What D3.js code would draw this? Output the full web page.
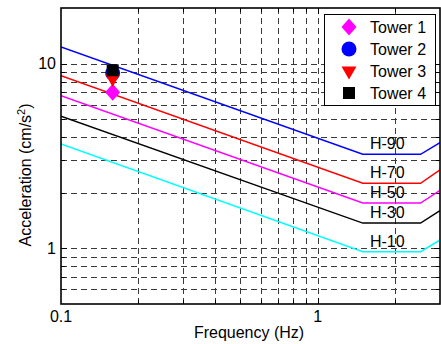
<!DOCTYPE html>
<html><head><meta charset="utf-8">
<script src="https://cdn.jsdelivr.net/npm/d3@7"></script>
<style>body{margin:0;background:#fff}svg{display:block;font-family:"Liberation Sans",Arial,sans-serif}</style>
</head><body><svg id="c" width="441" height="344"></svg>
<script>
// Data
const freqPoints = [0.1, 1.5, 2.52, 3.0];
const curveNames = ["H-90", "H-70", "H-50", "H-30", "H-10"];
const curveColors = ["#0000ff", "#ff0000", "#ff00ff", "#000000", "#00ffff"];
const h90 = [12.3, 3.23, 3.23, 3.73];
const h70 = [8.6, 2.25, 2.25, 2.66];
const h50 = [6.7, 1.76, 1.76, 2.06];
const h30 = [5.2, 1.37, 1.37, 1.60];
const h10 = [3.67, 0.96, 0.96, 1.11];
const curveValues = [h90, h70, h50, h30, h10];
const towerNames = ["Tower 1", "Tower 2", "Tower 3", "Tower 4"];
const towerFreq = [0.159, 0.159, 0.159, 0.159];
const towerAcc = [7.0, 8.9, 8.3, 9.2];
const towerColors = ["#ff00ff", "#0000ff", "#ff0000", "#000000"];
const towerShapes = ["diamond", "circle", "triangle", "square"];
const xTickLabels = [0.1, 1];
const yTickLabels = [1, 10];
const xGrid = [0.2,0.3,0.4,0.5,0.6,0.7,0.8,0.9,1,2];
const yGrid = [0.6,0.7,0.8,0.9,1,2,3,4,5,6,7,8,9,10];

const L = 61, R = 440, T = 8, B = 304;
const svg = d3.select("#c");
const x = d3.scaleLog().domain([0.1, 3]).range([L, R]);
const y = d3.scaleLog().domain([0.5, 20]).range([B, T]);

svg.append("defs").append("clipPath").attr("id","clip")
  .append("rect").attr("x",L).attr("y",T).attr("width",R-L).attr("height",B-T);

// grid
const g = svg.append("g").attr("stroke","#3a3a3a").attr("stroke-width",1).attr("stroke-dasharray","6,4");
g.selectAll(".vx").data(xGrid).join("line")
  .attr("x1",d=>Math.round(x(d))+0.5).attr("x2",d=>Math.round(x(d))+0.5).attr("y1",T).attr("y2",B);
g.selectAll(".hy").data(yGrid).join("line")
  .attr("y1",d=>Math.round(y(d))+0.5).attr("y2",d=>Math.round(y(d))+0.5).attr("x1",L).attr("x2",R);

// inward ticks
const tk = svg.append("g").attr("stroke","#000").attr("stroke-width",1);
tk.selectAll(".bt").data(xGrid).join("line")
  .attr("x1",d=>Math.round(x(d))+0.5).attr("x2",d=>Math.round(x(d))+0.5).attr("y1",B).attr("y2",d=>B-(d===1?6:4));
tk.selectAll(".tt").data(xGrid).join("line")
  .attr("x1",d=>Math.round(x(d))+0.5).attr("x2",d=>Math.round(x(d))+0.5).attr("y1",T).attr("y2",d=>T+(d===1?6:4));
tk.selectAll(".lt").data(yGrid).join("line")
  .attr("y1",d=>Math.round(y(d))+0.5).attr("y2",d=>Math.round(y(d))+0.5).attr("x1",L).attr("x2",d=>L+((d===1||d===10)?6:4));
tk.selectAll(".rt").data(yGrid).join("line")
  .attr("y1",d=>Math.round(y(d))+0.5).attr("y2",d=>Math.round(y(d))+0.5).attr("x1",R).attr("x2",d=>R-((d===1||d===10)?6:4));

// curves
const line = d3.line().x(d=>x(d[0])).y(d=>y(d[1]));
const cg = svg.append("g").attr("clip-path","url(#clip)");
curveValues.forEach((vals,i)=>{
  cg.append("path").datum(freqPoints.map((f,j)=>[f,vals[j]]))
    .attr("d",line).attr("fill","none").attr("stroke",curveColors[i]).attr("stroke-width",1.5);
});
// curve labels
svg.append("g").selectAll("text").data(curveValues).join("text")
  .attr("x",x(1.6)).attr("y",d=>y(d[1])-5)
  .attr("font-size",16).attr("fill","#000").text((d,i)=>curveNames[i]);

// markers
function sym(shape){
  const p = d3.path();
  if (shape==="diamond"){ p.moveTo(0,-8.5); p.lineTo(7.5,0); p.lineTo(0,8.5); p.lineTo(-7.5,0); p.closePath(); }
  else if (shape==="circle"){ p.arc(0,0,7.5,0,2*Math.PI); }
  else if (shape==="triangle"){ p.moveTo(-7.5,-4.5); p.lineTo(7.5,-4.5); p.lineTo(0,8.5); p.closePath(); }
  else { p.rect(-6,-6,12,12); }
  return p.toString();
}
const mg = svg.append("g");
towerNames.forEach((n,i)=>{
  mg.append("path").attr("d",sym(towerShapes[i]))
    .attr("transform",`translate(${x(towerFreq[i])},${y(towerAcc[i])})`)
    .attr("fill",towerColors[i]);
});

// frame
svg.append("rect").attr("x",L).attr("y",T).attr("width",R-L).attr("height",B-T)
  .attr("fill","none").attr("stroke","#000").attr("stroke-width",1.6);

// legend
const lg = svg.append("g");
lg.append("rect").attr("x",324.5).attr("y",14.5).attr("width",111).attr("height",91)
  .attr("fill","#fff").attr("stroke","#000").attr("stroke-width",1);
const rowY = [27, 49, 71, 93];
towerNames.forEach((n,i)=>{
  lg.append("path").attr("d",sym(towerShapes[i]))
    .attr("transform",`translate(349,${rowY[i]})`)
    .attr("fill",towerColors[i]);
  lg.append("text").attr("x",370).attr("y",rowY[i]+5.5).attr("font-size",16).text(n);
});

// tick labels
svg.append("g").selectAll("text").data(xTickLabels).join("text")
  .attr("x",d=>x(d)).attr("y",322).attr("text-anchor","middle").attr("font-size",16)
  .text(d=>d3.format("")(d));
svg.append("g").selectAll("text").data(yTickLabels).join("text")
  .attr("x",56).attr("y",d=>y(d)+5.5).attr("text-anchor","end").attr("font-size",16)
  .text(d=>d);

// axis titles
svg.append("text").attr("x",249).attr("y",338).attr("text-anchor","middle").attr("font-size",16)
  .text("Frequency (Hz)");
const yt = svg.append("text").attr("transform","translate(31,175) rotate(-90)").attr("text-anchor","middle").attr("font-size",16);
yt.append("tspan").text("Acceleration (cm/s");
yt.append("tspan").attr("dy",-6).attr("font-size",11).text("2");
yt.append("tspan").attr("dy",6).text(")");
</script></body></html>
